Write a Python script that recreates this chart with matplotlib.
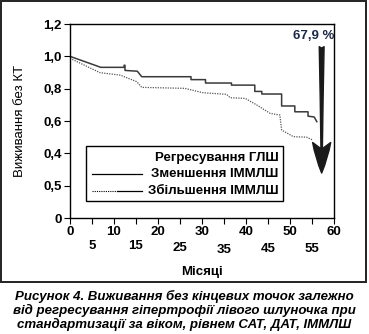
import matplotlib
matplotlib.use('Agg')
import matplotlib.pyplot as plt
from matplotlib.patches import Rectangle

plt.rcParams['font.family'] = ['Liberation Sans', 'DejaVu Sans']

# ---------- Дані ----------
# Зменшення ІММЛШ (суцільна лінія)
dec_months = [0, 7, 12.3, 12.3, 12.5, 12.5, 15.3, 16.3, 27.5, 27.5, 30.8, 30.8,
              36.7, 36.7, 42, 42, 43.6, 43.6, 48.1, 48.1, 51.1, 51.1, 54.1, 54.1,
              55.5, 56.1]
dec_surv = [1.0, 0.932, 0.932, 0.945, 0.945, 0.913, 0.908, 0.874, 0.874, 0.856,
            0.856, 0.835, 0.835, 0.822, 0.822, 0.783, 0.783, 0.767, 0.767, 0.693,
            0.693, 0.657, 0.657, 0.63, 0.625, 0.596]

# Збільшення ІММЛШ (пунктир)
inc_months = [0, 6.8, 11.4, 15.2, 16.3, 26.1, 30.2, 35.6, 36.4, 39.8, 42.4,
              45.5, 47.7, 48.1, 50.8, 53.8, 55.2]
inc_surv = [0.988, 0.899, 0.884, 0.843, 0.808, 0.802, 0.775, 0.765, 0.744,
            0.740, 0.70, 0.647, 0.637, 0.544, 0.503, 0.50, 0.482]

yticks = [0, 0.2, 0.4, 0.6, 0.8, 1.0, 1.2]
ytick_labels = ['0', '0,5', '0,4', '0,6', '0,8', '1,0', '1,2']
xticks = list(range(0, 61, 5))
arrow_x, arrow_top, arrow_tip = 57.2, 1.06, 0.278
pct_label = '67,9 %'

# ---------- Фігура ----------
fig = plt.figure(figsize=(3.69, 3.34), dpi=100)
fig.patches.append(Rectangle((0.004, 0.156), 0.988, 0.840, transform=fig.transFigure,
                             fill=False, edgecolor='#222222', linewidth=1.4))
ax = fig.add_axes([0.1897, 0.3473, 0.7154, 0.5808])

ax.plot(dec_months, dec_surv, color='#3a3a3a', linewidth=1.1)
ax.plot(inc_months, inc_surv, color='#555555', linewidth=0.9, linestyle=(0, (1, 1)))

ax.set_xlim(0, 60)
ax.set_ylim(0, 1.2)
ax.set_yticks(yticks)
ax.set_yticklabels(ytick_labels, fontweight='bold', fontsize=9.5)
ax.set_xticks(xticks)
ax.set_xticklabels([str(t) for t in xticks], fontweight='bold', fontsize=9.5)
ax.tick_params(length=4, width=0.8, direction='out', pad=2)
odd_pads = [12, 12, 13, 15, 14, 14]
ticks = ax.xaxis.get_major_ticks()
for i, t in enumerate(ticks):
    if i % 2 == 1:
        t.set_pad(odd_pads[i // 2])
for sp in ax.spines.values():
    sp.set_linewidth(1.0)

ax.set_ylabel('Виживання без КТ', fontsize=9.5, labelpad=12)
ax.set_xlabel('Місяці', fontweight='bold', fontsize=9.5, labelpad=7)

# стрілка
ax.annotate('', xy=(arrow_x, arrow_tip), xytext=(arrow_x, arrow_top),
            arrowprops=dict(arrowstyle='fancy,head_length=2.2,head_width=1.3,tail_width=0.35',
                            color='#1a1a1a', shrinkA=0, shrinkB=0))
ax.text(60, 1.125, pct_label, ha='right', va='center', fontsize=9.5,
        fontweight='bold', color='#1c2a48')

# легенда (вручну)
ax.add_patch(Rectangle((0.061, 0.089), 0.747, 0.284, transform=ax.transAxes,
                       fill=False, edgecolor='black', linewidth=1.0))
leg_rows = [0.308, 0.228, 0.141]
leg_labels = ['Регресування ГЛШ', 'Зменшення ІММЛШ', 'Збільшення ІММЛШ']
for yy, lab in zip(leg_rows, leg_labels):
    ax.text(0.789, yy, lab, transform=ax.transAxes, ha='right', va='center',
            fontsize=9.5, fontweight='bold')
ax.plot([0.082, 0.271], [leg_rows[1]] * 2, transform=ax.transAxes,
        color='black', linewidth=0.9)
ax.plot([0.082, 0.177], [leg_rows[2]] * 2, transform=ax.transAxes,
        color='black', linewidth=0.8, linestyle=(0, (1, 1)))
ax.plot([0.177, 0.271], [leg_rows[2]] * 2, transform=ax.transAxes,
        color='black', linewidth=0.9)

# підпис
caption = ('Рисунок 4. Виживання без кінцевих точок залежно\n'
           'від регресування гіпертрофії лівого шлуночка при\n'
           'стандартизації за віком, рівнем САТ, ДАТ, ІММЛШ')
fig.text(0.5, 0.07, caption, ha='center', va='center', fontsize=9.5,
         fontweight='bold', fontstyle='italic', linespacing=1.1)

fig.savefig('out.png', dpi=100)
